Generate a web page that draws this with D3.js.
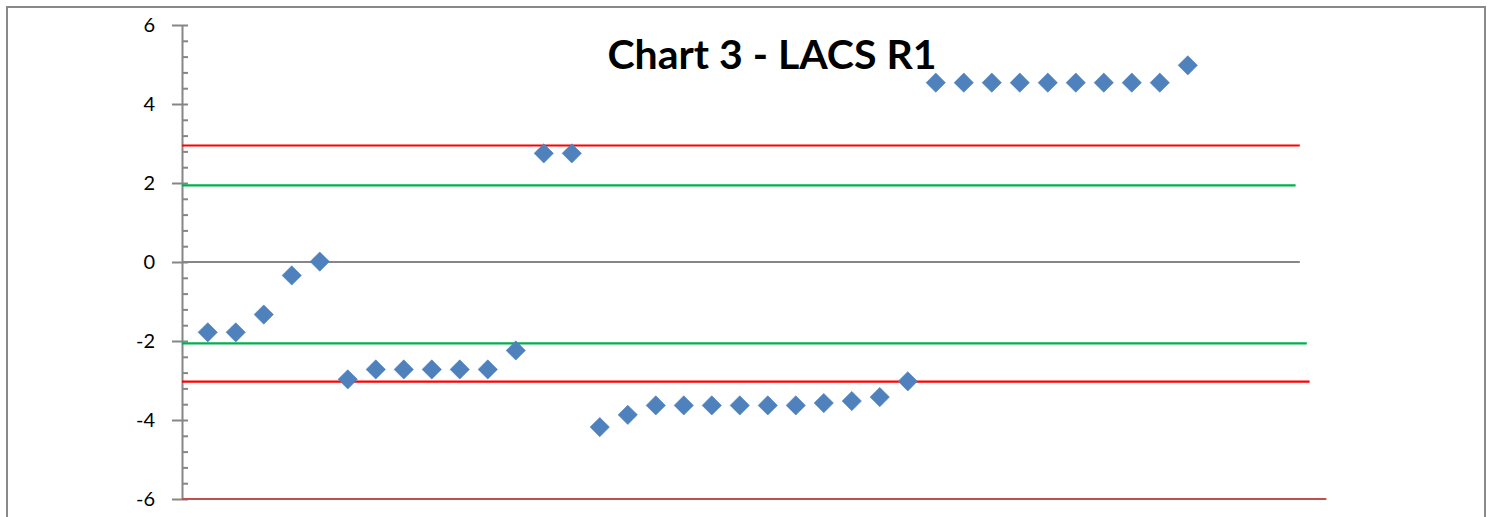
<!DOCTYPE html>
<html>
<head>
<meta charset="utf-8">
<script src="https://cdn.jsdelivr.net/npm/d3@7"></script>
<style>
  html, body { margin: 0; padding: 0; background: #fff; }
  svg { display: block; }
</style>
</head>
<body>
<svg id="chart" width="1492" height="517"></svg>
<script>
// point index (x) and value (y) of the LACS R1 series
const pointX = d3.range(1, 37);
const pointY = [
  -1.78, -1.78, -1.33, -0.34, 0.01, -2.97, -2.72, -2.72, -2.72, -2.72,
  -2.72, -2.24, 2.75, 2.75, -4.18, -3.87, -3.63, -3.63, -3.63, -3.63,
  -3.63, -3.63, -3.57, -3.52, -3.42, -3.02, 4.54, 4.54, 4.54, 4.54,
  4.54, 4.54, 4.54, 4.54, 4.54, 4.98
];

// reference lines: value, where they stop on the x scale, colour
const refValues = [2.95, 1.94, 0, -2.06, -3.03, -6];
const refEnds = [40, 39.85, 40, 40.25, 40.35, 40.95];
const refColors = ['#ff0000', '#00b050', '#868686', '#00b050', '#ff0000', '#c0504d'];

const yTicks = [-6, -4, -2, 0, 2, 4, 6];
const title = 'Chart 3 - LACS R1';

const svg = d3.select('#chart');

// outer chart frame
svg.append('rect')
  .attr('x', 7).attr('y', 7)
  .attr('width', 1478).attr('height', 530)
  .attr('fill', '#fff')
  .attr('stroke', '#898989')
  .attr('stroke-width', 2);

const x = d3.scaleLinear().domain([0.08, 41]).range([182, 1327.8]);
const y = d3.scaleLinear().domain([-6, 6]).range([499, 25]);

// minor ticks (inside)
svg.append('g')
  .attr('transform', `translate(${x.range()[0]},0)`)
  .call(d3.axisRight(y).tickValues(d3.range(-6, 6.001, 0.4)).tickSize(6).tickFormat(''))
  .call(g => g.select('.domain').remove())
  .call(g => g.selectAll('line').attr('stroke', '#868686').attr('stroke-width', 2));

// main y axis
svg.append('g')
  .attr('transform', `translate(${x.range()[0]},0)`)
  .call(d3.axisLeft(y).tickValues(yTicks).tickSize(10).tickSizeOuter(0).tickPadding(17)
    .tickFormat(d => String(d)))
  .call(g => g.select('.domain').attr('stroke', '#868686').attr('stroke-width', 2))
  .call(g => g.selectAll('line').attr('stroke', '#868686').attr('stroke-width', 2))
  .call(g => g.selectAll('text')
    .attr('font-family', 'Lato, Carlito, sans-serif')
    .attr('font-size', 20)
    .attr('fill', '#000'));

// horizontal reference lines
svg.append('g').selectAll('line')
  .data(refValues)
  .join('line')
  .attr('x1', x.range()[0])
  .attr('x2', (d, i) => x(refEnds[i]))
  .attr('y1', d => y(d))
  .attr('y2', d => y(d))
  .attr('stroke', (d, i) => refColors[i])
  .attr('stroke-width', 2.2);

// diamond markers
const diamond = d3.symbol().type(d3.symbolSquare).size(185);
svg.append('g').selectAll('path')
  .data(pointX.map((d, i) => [d, pointY[i]]))
  .join('path')
  .attr('d', diamond)
  .attr('transform', d => `translate(${x(d[0])},${y(d[1])}) rotate(45)`)
  .attr('fill', '#4f81bd')
  .attr('stroke', '#4a7ebb')
  .attr('stroke-width', 0.6);

svg.append('text')
  .attr('x', 772)
  .attr('y', 69)
  .attr('text-anchor', 'middle')
  .attr('font-family', 'Lato, Carlito, sans-serif')
  .attr('font-weight', 'bold')
  .attr('font-size', 41)
  .attr('fill', '#000')
  .text(title);
</script>
</body>
</html>
